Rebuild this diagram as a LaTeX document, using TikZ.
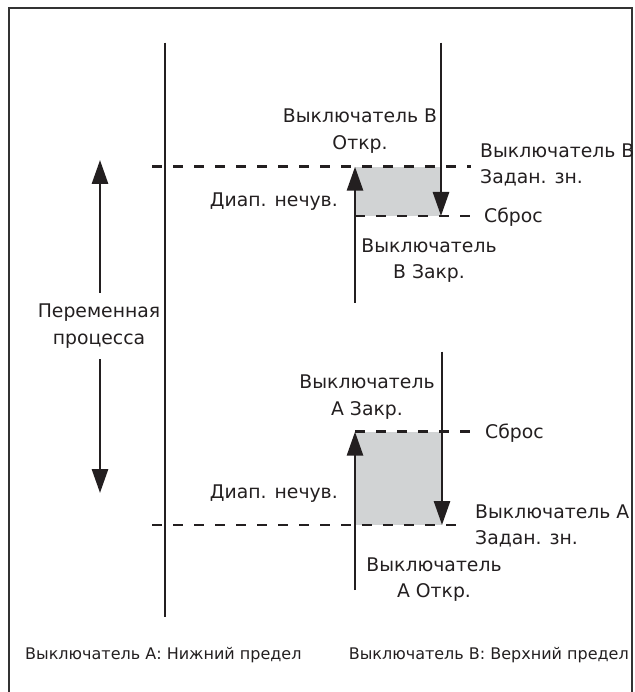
\documentclass[tikz,border=0pt]{standalone}
\usepackage{fontspec}
\setmainfont{DejaVu Sans}
\usetikzlibrary{arrows.meta, positioning}

\definecolor{inkdark}{HTML}{231F20}
\definecolor{bandgray}{HTML}{D1D3D4}

\begin{document}
\begin{tikzpicture}[
    x=1pt, y=-1pt,
    lbl/.style   = {inner sep=0pt, align=center, text=inkdark,
                    font=\fontsize{18.8}{26.5}\selectfont},
    note/.style  = {lbl, font=\fontsize{16}{20}\selectfont},
    axis/.style  = {draw=inkdark, line width=2.8pt},
    arrow/.style = {axis, -{Triangle[length=24pt, width=16pt]}},
    level/.style = {draw=inkdark, line width=2.6pt, dash pattern=on 10pt off 11pt},
  ]
  \useasboundingbox (0,0) rectangle (634,692);

  % Frame (bottom edge runs off the page)
  \draw[line width=2.6pt, draw=black!80] (9,700) -- (9,8) -- (632,8) -- (632,700);

  % Dead bands
  \fill[bandgray] (355,166.7) rectangle (441,216);
  \fill[bandgray] (355,431.7) rectangle (442,525);

  % Levels
  \coordinate (setBl) at (152,166.7);  \coordinate (setBr) at (471,166.7);
  \coordinate (rstBl) at (355,216);    \coordinate (rstBr) at (471,216);
  \coordinate (rstAl) at (355,431.7);  \coordinate (rstAr) at (471,431.7);
  \coordinate (setAl) at (152,525);    \coordinate (setAr) at (461,525);
  \draw[level] (setBl) -- (setBr);
  \draw[level] (rstBl) -- (rstBr);
  \draw[level] (rstAl) -- (rstAr);
  \draw[level] (setAl) -- (setAr);

  % Main axis
  \coordinate (mainTop) at (165,42.7);
  \coordinate (mainBot) at (165,616.7);
  \draw[axis] (mainTop) -- (mainBot);

  % Process variable
  \node[lbl, inner ysep=11pt] (pv) at (99,326) {Переменная\\процесса};
  \coordinate (pvTop) at (100,160);
  \coordinate (pvBot) at (100,493);
  \draw[arrow] (pv.north -| pvTop) -- (pvTop);
  \draw[arrow] (pv.south -| pvBot) -- (pvBot);

  % Switch B
  \coordinate (bDownTop) at (441,42.7);
  \coordinate (bDownEnd) at (441,216);
  \coordinate (bUpBot)   at (355,302.7);
  \coordinate (bUpEnd)   at (355,166.7);
  \draw[arrow] (bDownTop) -- (bDownEnd);
  \draw[arrow] (bUpBot) -- (bUpEnd);

  % Switch A
  \coordinate (aDownTop) at (442,351.7);
  \coordinate (aDownEnd) at (442,525);
  \coordinate (aUpBot)   at (355,590);
  \coordinate (aUpEnd)   at (355,431.7);
  \draw[arrow] (aDownTop) -- (aDownEnd);
  \draw[arrow] (aUpBot) -- (aUpEnd);

  % Labels, switch B
  \node[lbl] (opnB) at (360,131) {Выключатель В\\Откр.};
  \node[lbl, align=left, anchor=west] (setB) at (480,165) {Выключатель В\\Задан. зн.};
  \node[lbl, anchor=base east] (dbB) at (338,207) {Диап. нечув.};
  \node[lbl, anchor=base west] (rstB) at (484,223) {Сброс};
  \node[lbl] (clsB) at (429,260.5) {Выключатель\\В Закр.};

  % Labels, switch A
  \node[lbl] (clsA) at (367,397) {Выключатель\\А Закр.};
  \node[lbl, anchor=base west] (rstA) at (485,438.7) {Сброс};
  \node[lbl, anchor=base east] (dbA) at (338,498.7) {Диап. нечув.};
  \node[lbl, align=left, anchor=west] (setA) at (475,526) {Выключатель А\\Задан. зн.};
  \node[lbl] (opnA) at (434,579.5) {Выключатель\\А Откр.};

  % Legend
  \node[note, anchor=base west] (lowA) at (25,659) {Выключатель А: Нижний предел};
  \node[note, anchor=base east] (highB) at (629,659) {Выключатель В: Верхний предел};
\end{tikzpicture}
\end{document}
